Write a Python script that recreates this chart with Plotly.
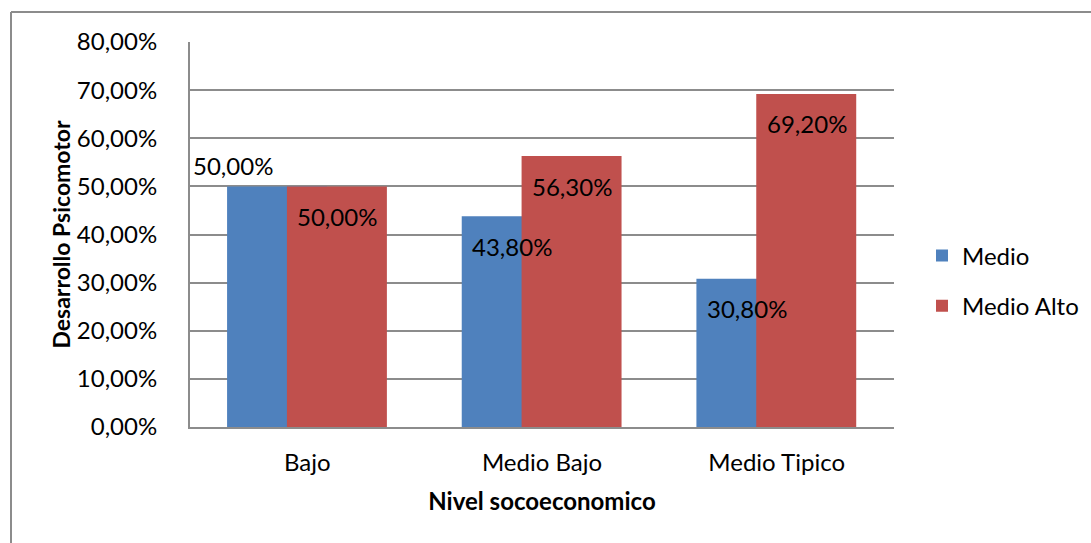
import plotly.graph_objects as go

categories = ["Bajo", "Medio Bajo", "Medio Tipico"]
medio = [0.50, 0.438, 0.308]
medio_alto = [0.50, 0.563, 0.692]
series_names = ["Medio", "Medio Alto"]
y_ticks = [0.0, 0.1, 0.2, 0.3, 0.4, 0.5, 0.6, 0.7, 0.8]

# style
BLUE = "#4F81BD"
RED = "#C0504D"
GRID = "#8C8C8C"
FONT = "Lato"
FS = 24
bar_w = 0.426
blue_off = -0.342
red_off = -0.087
blue_label_dx = [-74, -30, -30]
blue_label_dy = [21, -30, -30]
red_label_dx = [30, 30, 30]
red_label_dy = [-30, -30, -30]

def pct(v):
    return f"{v*100:.2f}".replace(".", ",") + "%"

fig = go.Figure()
fig.add_trace(go.Bar(x=categories, y=medio, name=series_names[0], legendgroup="a",
                     marker=dict(color=BLUE, line=dict(width=0)),
                     width=[bar_w]*3, offset=[blue_off]*3))
fig.add_trace(go.Bar(x=categories, y=medio_alto, name=series_names[1], legendgroup="b",
                     marker=dict(color=RED, line=dict(width=0)),
                     width=[bar_w]*3, offset=[red_off]*3))

annotations = []
for i, c in enumerate(categories):
    annotations.append(dict(x=c, y=medio[i], xref="x", yref="y", text=pct(medio[i]), showarrow=False,
                            xshift=blue_label_dx[i], yshift=blue_label_dy[i],
                            font=dict(family=FONT, size=FS, color="black")))
    annotations.append(dict(x=c, y=medio_alto[i], xref="x", yref="y", text=pct(medio_alto[i]), showarrow=False,
                            xshift=red_label_dx[i], yshift=red_label_dy[i],
                            font=dict(family=FONT, size=FS, color="black")))

L, R, T, B = 190, 197, 42, 116
W, H = 1091, 543
pw, ph = W - L - R, H - T - B
def px_x(p):
    return (p - L) / pw
def px_y(p):
    return (H - B - p) / ph

shapes = [
    dict(type="line", xref="paper", yref="paper", x0=px_x(11), x1=px_x(11), y0=px_y(12), y1=px_y(560),
         line=dict(color="#8C8C8C", width=2)),
    dict(type="line", xref="paper", yref="paper", x0=px_x(11), x1=px_x(1100), y0=px_y(12), y1=px_y(12),
         line=dict(color="#8C8C8C", width=2)),
]

fig.update_layout(
    width=W, height=H,
    margin=dict(l=L, r=R, t=T, b=B, autoexpand=False),
    paper_bgcolor="white", plot_bgcolor="white",
    barmode="overlay",
    separators=",.",
    font=dict(family=FONT, size=FS, color="black"),
    annotations=annotations,
    shapes=shapes,
    legend=dict(x=px_x(922), y=px_y(281), xanchor="left", yanchor="middle",
                font=dict(family=FONT, size=FS, color="black"), bgcolor="rgba(0,0,0,0)",
                traceorder="grouped", tracegroupgap=16),
    xaxis=dict(showgrid=False, showline=True, linecolor=GRID, linewidth=2, ticks="",
               tickfont=dict(family=FONT, size=FS), ticklabelstandoff=13,
               title=dict(text="<b>Nivel socoeconomico</b>", font=dict(family=FONT, size=24), standoff=18)),
    yaxis=dict(range=[0, 0.8], tickvals=y_ticks, tickformat=".2%", showgrid=True, gridcolor=GRID, gridwidth=2,
               showline=True, linecolor=GRID, linewidth=2, zeroline=False, ticks="",
               tickfont=dict(family=FONT, size=FS), ticklabelstandoff=26,
               title=dict(text="<b>Desarrollo Psicomotor</b>", font=dict(family=FONT, size=23), standoff=0)),
)

fig.write_html("out.html")
